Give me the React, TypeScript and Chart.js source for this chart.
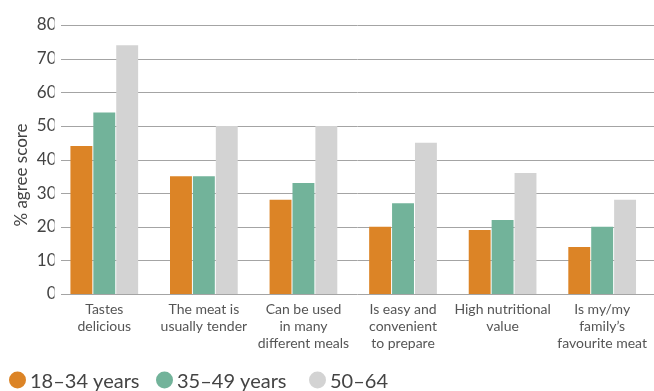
import React, { useEffect, useRef } from "react";
import { Chart, registerables } from "chart.js";

Chart.register(...registerables);

const categories: string[][] = [
  ["Tastes", "delicious"],
  ["The meat is", "usually tender"],
  ["Can be used", "in many", "different meals"],
  ["Is easy and", "convenient", "to prepare"],
  ["High nutritional", "value"],
  ["Is my/my", "family\u2019s", "favourite meat"],
];
const age18to34 = [44, 35, 28, 20, 19, 14];
const age35to49 = [54, 35, 33, 27, 22, 20];
const age50to64 = [74, 50, 50, 45, 36, 28];
const seriesLabels = ["18\u201334 years", "35\u201349 years", "50\u201364"];
const seriesColors = ["#DC8426", "#72B39A", "#D3D3D3"];
const yTitle = "% agree score";
const FONT = "Lato, 'Open Sans', sans-serif";
const legendStarts = [9, 156, 309];

const customPlugin = {
  id: "custom",
  beforeDatasetsDraw(chart: any) {
    const ctx = chart.ctx;
    const y = chart.scales.y;
    ctx.save();
    ctx.strokeStyle = "#a4a4a4";
    ctx.lineWidth = 1;
    y.ticks.forEach((t: any) => {
      const py = Math.round(y.getPixelForValue(t.value)) + 0.5;
      ctx.beginPath();
      ctx.moveTo(61, py);
      ctx.lineTo(chart.width, py);
      ctx.stroke();
    });
    ctx.restore();
  },
  afterDraw(chart: any) {
    const ctx = chart.ctx;
    ctx.save();
    ctx.translate(22, 175);
    ctx.rotate(-Math.PI / 2);
    ctx.fillStyle = "#444";
    ctx.font = `17px ${FONT}`;
    ctx.textAlign = "center";
    ctx.textBaseline = "middle";
    ctx.fillText(yTitle, 0, 0);
    ctx.restore();

    ctx.save();
    ctx.font = `20px ${FONT}`;
    ctx.textBaseline = "alphabetic";
    ctx.textAlign = "left";
    const cy = 380;
    chart.data.datasets.forEach((ds: any, i: number) => {
      const x = legendStarts[i];
      ctx.fillStyle = ds.backgroundColor;
      ctx.beginPath();
      ctx.arc(x + 8.5, cy, 8.5, 0, Math.PI * 2);
      ctx.fill();
      ctx.fillStyle = "#444";
      ctx.fillText(ds.label, x + 21, 388);
    });
    ctx.restore();
  },
};

export default function App() {
  const ref = useRef<HTMLCanvasElement | null>(null);
  useEffect(() => {
    if (!ref.current) return;
    const chart = new Chart(ref.current, {
      type: "bar",
      data: {
        labels: categories,
        datasets: [age18to34, age35to49, age50to64].map((d, i) => ({
          label: seriesLabels[i],
          data: d,
          backgroundColor: seriesColors[i],
          borderWidth: 0,
          categoryPercentage: 0.69,
          barPercentage: 0.957,
        })),
      },
      options: {
        animation: false,
        responsive: false,
        maintainAspectRatio: false,
        layout: { padding: { top: 25, right: 0, left: 0, bottom: 0 } },
        plugins: { legend: { display: false }, tooltip: { enabled: false } },
        scales: {
          x: {
            grid: { display: false, drawTicks: false },
            border: { display: false },
            ticks: {
              color: "#555",
              font: { family: FONT, size: 14, lineHeight: 1.2 },
              padding: 7,
              maxRotation: 0,
              autoSkip: false,
            },
            afterFit(scale: any) {
              scale.height = 97;
            },
          },
          y: {
            min: 0,
            max: 80,
            grid: { display: false, drawTicks: false },
            border: { display: false },
            ticks: {
              stepSize: 10,
              color: "#444",
              font: { family: FONT, size: 17 },
              padding: -2,
            },
            afterFit(scale: any) {
              scale.width = 54.5;
            },
          },
        },
      },
      plugins: [customPlugin],
    });
    return () => chart.destroy();
  }, []);
  return (
    <div style={{ position: "fixed", left: 0, top: 0, width: 654, height: 391, background: "#fff" }}>
      <canvas ref={ref} width={654} height={391} style={{ display: "block" }} />
    </div>
  );
}
